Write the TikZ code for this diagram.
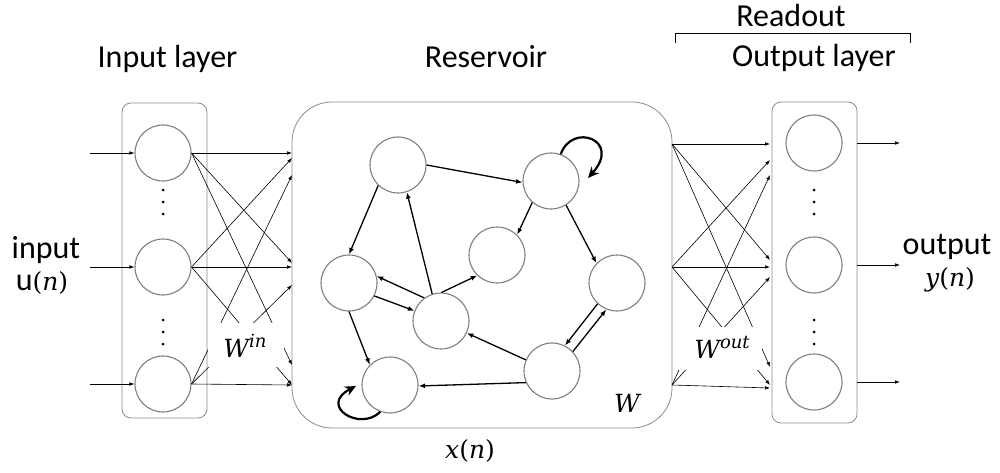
\RequirePackage{fix-cm}
\documentclass[tikz,border=0pt]{standalone}
\usepackage{fontspec}
\setmainfont{Carlito}
\newfontfamily\symfont{DejaVu Serif}
\usetikzlibrary{arrows.meta}

% italic variable names in a heavy serif
\newcommand{\iv}[1]{{\itshape #1}}
\newcommand{\supv}[1]{\raisebox{10pt}{\fontsize{18}{20}\selectfont\itshape #1}}

\definecolor{ringgray}{HTML}{7F7F7F}
\definecolor{boxgray}{HTML}{8C8C8C}

\tikzset{
  neuron/.style={circle, draw=ringgray, line width=1.1pt, fill=white,
                 minimum size=56pt, inner sep=0pt},
  layerbox/.style={draw=boxgray, line width=0.8pt, rounded corners=9pt,
                   inner sep=0pt},
  fan/.style={line width=0.6pt, -{Latex[length=5pt,width=3.6pt]}},
  rlink/.style={line width=1.3pt, -{Latex[length=6.5pt,width=5pt]}},
  selfloop/.style={line width=2.2pt, -{Stealth[length=11pt,width=10pt]}},
  lbl/.style={anchor=base, inner sep=0pt, font=\fontsize{32}{38}\selectfont},
  mlbl/.style={anchor=base, inner sep=0pt, font=\symfont\fontsize{25}{30}\selectfont},
  patch/.style={fill=white, inner sep=0pt},
  vdot/.style={circle, fill=black, inner sep=0pt, minimum size=3pt},
}

\begin{document}
\begin{tikzpicture}[x=1pt, y=-1pt]
\useasboundingbox (0,0) rectangle (1000,473);

% --- frames -----------------------------------------------------------
\node[layerbox, minimum width=85pt, minimum height=315pt] (ibox) at (164.5,260.5) {};
\node[layerbox, minimum width=85pt, minimum height=321pt] (obox) at (814.5,262.5) {};
\node[draw=boxgray, line width=0.8pt, rounded corners=40pt, inner sep=0pt,
      minimum width=380pt, minimum height=326pt] (res) at (482,265) {};

% --- input and output neurons ----------------------------------------
\node[neuron] (i1) at (163,153) {};
\node[neuron] (i2) at (163,267) {};
\node[neuron] (i3) at (163,384) {};
\node[neuron] (o1) at (814,143) {};
\node[neuron] (o2) at (814,265) {};
\node[neuron] (o3) at (814,382) {};

\foreach \y in {190,202,214,320,332,344} {
  \node[vdot] at (163,\y) {};
  \node[vdot] at (814,\y) {};
}

% --- external inputs and outputs -------------------------------------
\coordinate (u1) at (90,153);
\coordinate (u2) at (90,267);
\coordinate (u3) at (90,384);
\foreach \k in {1,2,3} \draw[fan] (u\k) -- (i\k.west);

\coordinate (y1) at (900,143);
\coordinate (y2) at (900,265);
\coordinate (y3) at (900,382);
\foreach \k in {1,2,3} \draw[fan] (obox.east |- o\k) -- (y\k);

% --- input weights W^in ----------------------------------------------
\foreach \y in {153,158,175,263,267,285,365,385} \coordinate (e\y) at (292,\y);
\foreach \s/\t in {i1/153, i1/263, i1/365,
                   i2/158, i2/267, i2/385,
                   i3/175, i3/285, i3/385}
  \draw[fan] (\s.east) -- (e\t);

% --- output weights W^out --------------------------------------------
\coordinate (s1) at (672,144);
\coordinate (s2) at (672,267);
\coordinate (s3) at (672,385);
\foreach \y in {144,160,175,260,267,277,367,385,388} \coordinate (t\y) at (770,\y);
\foreach \s/\t in {s1/144, s1/260, s1/367,
                   s2/160, s2/267, s2/385,
                   s3/175, s3/277, s3/388}
  \draw[fan] (\s) -- (t\t);

% --- weight labels ---------------------------------------------------
\node[patch, minimum width=76pt, minimum height=44pt] (winp) at (246,345) {};
\node[mlbl] (win) at (245,357) {\iv{W}\supv{in}};
\node[patch, minimum width=89pt, minimum height=43pt] (woutp) at (717.5,348.5) {};
\node[mlbl] (wout) at (722,358) {\iv{W}\supv{out}};

% --- reservoir neurons -----------------------------------------------
\node[neuron] (A) at (398,165) {};
\node[neuron] (B) at (551,181) {};
\node[neuron] (C) at (497,255) {};
\node[neuron] (D) at (349,283) {};
\node[neuron] (E) at (617,283) {};
\node[neuron] (F) at (441,321) {};
\node[neuron] (G) at (552,371) {};
\node[neuron] (H) at (390,385) {};

% --- recurrent connections W -----------------------------------------
\draw[rlink] (A.0)    -- (B.183);
\draw[rlink] (A.-134) -- (D.90);
\draw[rlink] (F.108)  -- (A.-72);
\draw[rlink] (B.-131) -- (C.45);
\draw[rlink] (B.-58)  -- (E.136);
\draw[rlink] (F.89)   -- (C.-134);
\draw[rlink] (F.126)  -- (D.14);
\draw[rlink] (D.-27)  -- (F.159);
\draw[rlink] (D.-90)  -- (H.135);
\draw[rlink] (G.157)  -- (F.-25);
\draw[rlink] (G.204)  -- (H.-2);
\draw[rlink] (E.-133) -- (G.63);
\draw[rlink] (G.43)   -- (E.-112);

\coordinate (Bend) at (588,178);
\draw[selfloop] (B.70) .. controls (572,122) and (622,140) .. (Bend);
\coordinate (Hend) at (356,386);
\draw[selfloop] (H.250) .. controls (360,432) and (318,406) .. (Hend);

% --- texts -----------------------------------------------------------
\node[lbl] (tin)  at (167.5,68) {Input layer};
\node[lbl] (tres) at (486,68)   {Reservoir};
\node[lbl] (tout) at (814,67)   {Output layer};
\node[lbl] (tread) at (791,27)  {Readout};
\draw[line width=0.8pt] (675,43) -- (675,33) -- (910,33) -- (910,43);

\node[lbl] (tinput) at (46,258)  {input};
\node[lbl] (tun)    at (42,290)  {u{\symfont\fontsize{25}{30}\selectfont(\iv{n})}};
\node[lbl] (toutput) at (947,254) {output};
\node[mlbl] (tyn)   at (950,286) {\iv{y}(\iv{n})};
\node[mlbl] (tW)    at (627,412) {\iv{W}};
\node[mlbl] (txn)   at (470,458) {\iv{x}(\iv{n})};
\end{tikzpicture}
\end{document}
